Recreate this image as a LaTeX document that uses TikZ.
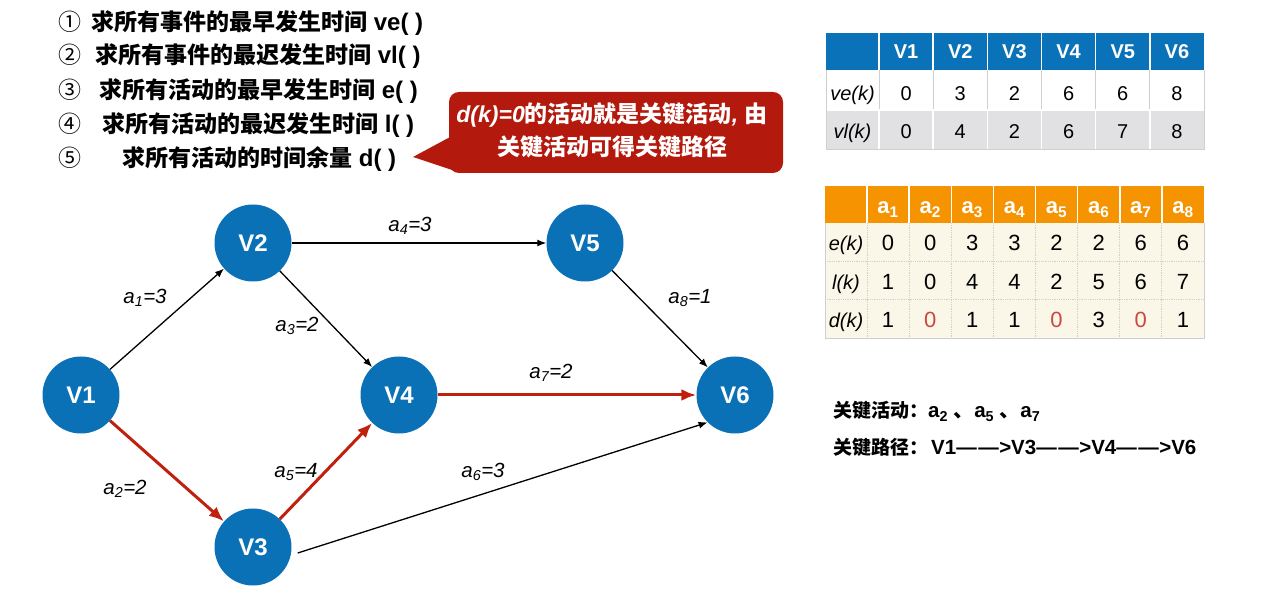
\documentclass[tikz,border=0pt]{standalone}
\usepackage{fontspec}
\setmainfont{Liberation Sans}
\newfontfamily\cjk{Noto Sans CJK SC}
\usetikzlibrary{arrows.meta}
\definecolor{nodeblue}{HTML}{0B71B7}
\definecolor{critred}{HTML}{C0200E}
\definecolor{callred}{HTML}{B3190C}
\definecolor{thblue}{HTML}{0A72B8}
\definecolor{thorange}{HTML}{F69300}
\definecolor{rowgray}{HTML}{E1E1E4}
\definecolor{cream}{HTML}{FAF6E8}
\definecolor{zerored}{HTML}{C9493F}
\definecolor{gridgray}{HTML}{CFCFCF}
\begin{document}
\begin{tikzpicture}[x=1pt,y=-1pt,
 vtx/.style={circle,fill=nodeblue,minimum size=77pt,inner sep=0pt,text=white,font=\fontsize{24}{24}\selectfont\bfseries},
 act/.style={draw=black,line width=1.3pt,-{Latex[length=9pt,width=7pt]}},
 crit/.style={draw=critred,line width=3pt,-{Latex[length=15pt,width=12pt]}},
 elabel/.style={font=\fontsize{20.5}{20.5}\selectfont\itshape,inner sep=0pt},
 txt/.style={inner sep=0pt,anchor=base west},
 listfont/.style={font=\fontsize{23}{23}\selectfont},
 tcell/.style={inner sep=0pt,anchor=base,font=\fontsize{20}{20}\selectfont},
 tcellb/.style={inner sep=0pt,anchor=base,font=\fontsize{22}{22}\selectfont}]
\useasboundingbox (0,0) rectangle (1270,593);

% ---------- top list ----------
\node[txt,listfont] (n1) at (58,31) {\cjk ①};
\node[txt,listfont] (n2) at (58,64) {\cjk ②};
\node[txt,listfont] (n3) at (58,99) {\cjk ③};
\node[txt,listfont] (n4) at (58,133) {\cjk ④};
\node[txt,listfont] (n5) at (58,167) {\cjk ⑤};
\node[txt,listfont] (l1) at (91,31) {{\cjk\bfseries 求所有事件的最早发生时间}\fontsize{24}{24}\selectfont\bfseries\ ve( )};
\node[txt,listfont] (l2) at (95,64) {{\cjk\bfseries 求所有事件的最迟发生时间}\fontsize{24}{24}\selectfont\bfseries\ vl( )};
\node[txt,listfont] (l3) at (99,99) {{\cjk\bfseries 求所有活动的最早发生时间}\fontsize{24}{24}\selectfont\bfseries\ e( )};
\node[txt,listfont] (l4) at (102,133) {{\cjk\bfseries 求所有活动的最迟发生时间}\fontsize{24}{24}\selectfont\bfseries\ l( )};
\node[txt,listfont] (l5) at (122,167) {{\cjk\bfseries 求所有活动的时间余量}\fontsize{24}{24}\selectfont\bfseries\ d( )};

% ---------- callout ----------
\fill[callred,rounded corners=10pt] (449,92) rectangle (783,173);
\fill[callred] (452,136) -- (413,157) -- (455,171) -- cycle;
\node[inner sep=0pt,anchor=base,text=white,listfont] (c1) at (612,123)
  {\bfseries\itshape d(k)=0{\cjk\upshape 的活动就是关键活动},\ {\cjk\upshape 由}};
\node[inner sep=0pt,anchor=base,text=white,listfont] (c2) at (612,156)
  {\cjk\bfseries 关键活动可得关键路径};

% ---------- graph ----------
\node[vtx] (v1) at (81,395) {V1};
\node[vtx] (v2) at (253,243) {V2};
\node[vtx] (v3) at (253,547) {V3};
\node[vtx] (v4) at (399,395) {V4};
\node[vtx] (v5) at (585,243) {V5};
\node[vtx] (v6) at (735,395) {V6};

\draw[act] (v1) -- (v2);
\draw[act] (v2) -- (v4);
\draw[act] (v2) -- (v5);
\draw[act] (v5) -- (v6);
\draw[act] ([shift={(6,6)}]v3.east) -- (v6.south west);
\draw[crit] (v1) -- (v3);
\draw[crit] (v3) -- (v4);
\draw[crit] (v4) -- (v6);

\node[elabel] (la1) at (145,298) {a\textsubscript{1}=3};
\node[elabel] (la2) at (125,489) {a\textsubscript{2}=2};
\node[elabel] (la3) at (297,326) {a\textsubscript{3}=2};
\node[elabel] (la4) at (410,226) {a\textsubscript{4}=3};
\node[elabel] (la5) at (296,472) {a\textsubscript{5}=4};
\node[elabel] (la6) at (483,472) {a\textsubscript{6}=3};
\node[elabel] (la7) at (551,373) {a\textsubscript{7}=2};
\node[elabel] (la8) at (690,298) {a\textsubscript{8}=1};

% ---------- table 1 ----------
\fill[thblue] (826,33) rectangle (1204,70);
\fill[white] (826,70) rectangle (1204,110);
\fill[rowgray] (826,110) rectangle (1204,149);
\foreach \i in {0,...,5}{
  \draw[white,line width=1.5pt] (879+\i*54.17,33) -- (879+\i*54.17,70);
  \draw[gridgray,line width=0.8pt] (879+\i*54.17,70) -- (879+\i*54.17,110);
  \draw[white,line width=1.5pt] (879+\i*54.17,110) -- (879+\i*54.17,149);
}
\draw[white,line width=1.5pt] (826,110) -- (1204,110);
\draw[gridgray,line width=0.8pt] (826,70) -- (826,149) -- (1204,149) -- (1204,70);
\foreach \t [count=\i from 0] in {V1,V2,V3,V4,V5,V6}
  \node[tcell,text=white,font=\fontsize{20}{20}\selectfont\bfseries] at (906.1+\i*54.17,59) {\t};
\node[tcell] at (852.5,101) {\itshape ve(k)};
\node[tcell] at (852.5,139) {\itshape vl(k)};
\foreach \t [count=\i from 0] in {0,3,2,6,6,8}
  \node[tcell] at (906.1+\i*54.17,101) {\t};
\foreach \t [count=\i from 0] in {0,4,2,6,7,8}
  \node[tcell] at (906.1+\i*54.17,139) {\t};

% ---------- table 2 ----------
\fill[thorange] (825,186) rectangle (1204,223);
\fill[cream] (825,223) rectangle (1204,338);
\foreach \i in {0,...,7}{
  \draw[white,line width=1.5pt] (867+\i*42.125,186) -- (867+\i*42.125,223);
  \draw[gridgray,line width=0.8pt,densely dotted] (867+\i*42.125,223) -- (867+\i*42.125,338);
}
\draw[gridgray,line width=0.8pt,densely dotted] (825,261) -- (1204,261);
\draw[gridgray,line width=0.8pt,densely dotted] (825,299) -- (1204,299);
\draw[gridgray,line width=0.8pt] (825,223) -- (825,338) -- (1204,338) -- (1204,223);
\foreach \i in {1,...,8}
  \node[tcellb,text=white,font=\fontsize{22}{22}\selectfont\bfseries] at (888.06+\i*42.125-42.125,214) {a\textsubscript{\i}};
\node[tcell] at (846,251) {\itshape e(k)};
\node[tcell] at (846,290) {\itshape l(k)};
\node[tcell] at (846,328) {\itshape d(k)};
\foreach \t [count=\i from 0] in {0,0,3,3,2,2,6,6}
  \node[tcellb] at (888.06+\i*42.125,251) {\t};
\foreach \t [count=\i from 0] in {1,0,4,4,2,5,6,7}
  \node[tcellb] at (888.06+\i*42.125,290) {\t};
\foreach \t/\c [count=\i from 0] in {1/black,0/zerored,1/black,1/black,0/zerored,3/black,0/zerored,1/black}
  \node[tcellb,text=\c] at (888.06+\i*42.125,328) {\t};

% ---------- conclusions ----------
\node[txt,font=\fontsize{20.5}{20.5}\selectfont\bfseries] (k1) at (833,418)
  {{\cjk\fontsize{19}{19}\selectfont 关键活动：}a\textsubscript{2}\ {\cjk 、}a\textsubscript{5}\ {\cjk 、}a\textsubscript{7}};
\node[txt,font=\fontsize{20.5}{20.5}\selectfont\bfseries] (k2) at (833,455)
  {{\cjk\fontsize{19}{19}\selectfont 关键路径：}\hspace{3pt}V1—\hspace{1.5pt}—\hspace{0.5pt}>V3—\hspace{1.5pt}—\hspace{0.5pt}>V4—\hspace{1.5pt}—\hspace{0.5pt}>V6};
\end{tikzpicture}
\end{document}
